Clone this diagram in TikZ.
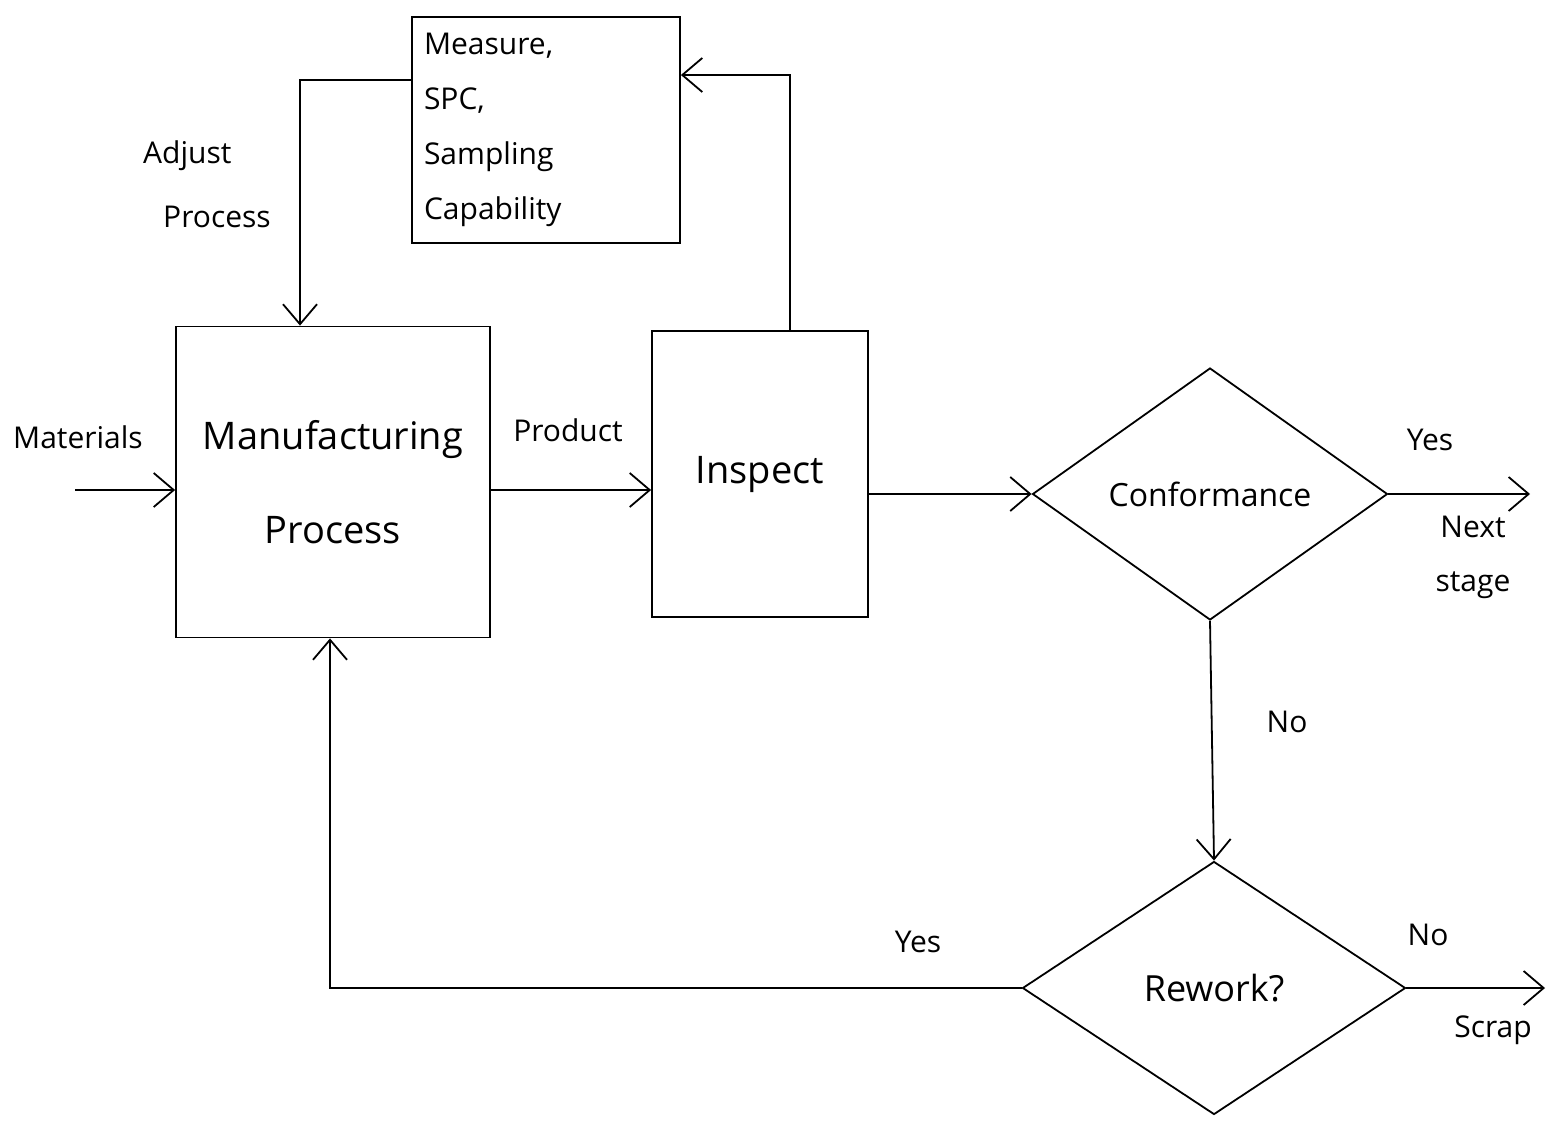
\documentclass[tikz,border=0pt]{standalone}
\usepackage{fontspec}
\setmainfont{Open Sans}
\usetikzlibrary{arrows.meta,shapes.geometric}
\begin{document}
\begin{tikzpicture}[x=0.5pt,y=-0.5pt,
  line width=0.9pt,
  arr/.style={-{Straight Barb[length=10pt,width=17pt,line width=0.9pt]}},
  blk/.style={draw,rectangle,inner sep=0pt},
  dec/.style={draw,diamond,inner sep=0pt},
  lbl/.style={font=\fontsize{15}{18}\selectfont},
  big/.style={font=\fontsize{19}{23}\selectfont}]
\useasboundingbox[fill=white] (0,0) rectangle (1551,1124);

% blocks
\node[blk,minimum width=134pt,minimum height=113pt,align=left,text width=122pt,
      inner xsep=6pt,font=\fontsize{15}{27.5}\selectfont] (meas) at (546,130)
  {Measure,\\SPC,\\Sampling\\Capability};
\node[blk,minimum width=157pt,minimum height=155.5pt,align=center,
      font=\fontsize{19}{47}\selectfont] (mfg) at (333,482)
  {Manufacturing\\Process};
\node[blk,minimum width=108pt,minimum height=143pt,big] (insp) at (760,474) {Inspect};

% decisions
\node[dec,minimum width=177.5pt,minimum height=126pt,font=\fontsize{16}{19}\selectfont]
  (conf) at (1210,494) {Conformance};
\node[dec,minimum width=191.5pt,minimum height=126.5pt,font=\fontsize{18}{21}\selectfont]
  (rw) at (1214,988) {Rework?};

% free ends and bends
\coordinate (mat) at (75,490);
\coordinate (fbk) at (790,75);
\coordinate (adj) at (300,80);
\coordinate (ret) at (330,988);
\coordinate (nxt) at (1530,494);
\coordinate (scr) at (1545,988);

% connectors
\draw[arr] (mat) -- (mat -| mfg.west);
\draw[arr] (mfg.east |- mat) -- (insp.west |- mat);
\draw[arr] (insp.east |- conf.west) -- (conf.west);
\draw[arr] (conf.south) -- (rw.north);
\draw[arr] (conf.east) -- (nxt);
\draw[arr] (rw.east) -- (scr);
\draw[arr] (rw.west) -- (rw.west -| ret) -- (ret |- mfg.south);
\draw[arr] (insp.north -| fbk) -- (fbk) -- (fbk -| meas.east);
\draw[arr] (meas.west |- adj) -- (adj) -- (adj |- mfg.north);

% labels
\node[lbl] (tmat) at (78,437) {Materials};
\node[lbl,align=left,font=\fontsize{15}{32}\selectfont] (tadj) at (207,184) {Adjust\\\hspace*{10pt}Process};
\node[lbl] (tprod) at (568,430) {Product};
\node[lbl] (tyes1) at (1430,440) {Yes};
\node[lbl,align=center,font=\fontsize{15}{27}\selectfont] (tnext) at (1473,557) {Next\\stage};
\node[lbl] (tno1) at (1287,722) {No};
\node[lbl] (tyes2) at (918,942) {Yes};
\node[lbl] (tno2) at (1428,935) {No};
\node[lbl] (tscr) at (1493,1030) {Scrap};
\end{tikzpicture}
\end{document}
